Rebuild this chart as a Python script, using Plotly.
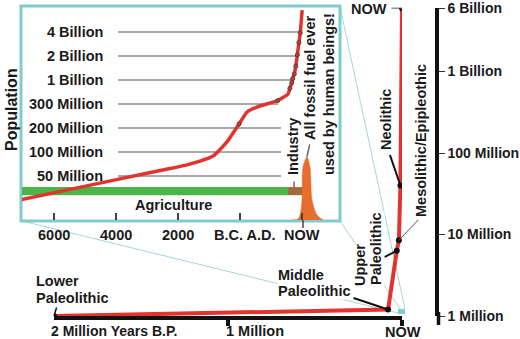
import numpy as np
import plotly.graph_objects as go

W, H = 520, 339

# ---------------- main chart data ----------------
eras = ["Lower Paleolithic", "Middle Paleolithic", "Upper Paleolithic",
        "Mesolithic/Epipleothic", "Neolithic", "NOW"]
years_bp = [2000000, 80000, 30000, 18000, 9000, 0]
population = [1.0e6, 1.2e6, 6.3e6, 8.5e6, 4.0e7, 6.0e9]

main_tick_vals = [1e6, 1e7, 1e8, 1e9, 6e9]
main_tick_text = ["1 Million", "10 Million", "100 Million", "1 Billion", "6 Billion"]

# ---------------- inset data ----------------
inset_years = [-7100, -5480, -3870, -2260, -1710, -870, -420, -30, 230, 550,
               1220, 1550, 1610, 1670, 1700, 1750, 1800, 1850, 1900, 1945, 2005]
inset_pop_m = [25, 34, 46, 62, 69, 89, 134, 214, 262, 285,
               357, 496, 660, 875, 1040, 1190, 1500, 2060, 2940, 3920, 7500]
dot_years = [-30, 1220, 1610, 1670, 1700, 1750, 1800, 1850, 1900, 1945]
dot_pop_m = [214, 357, 660, 875, 1040, 1190, 1500, 2060, 2940, 3920]

inset_levels_m = [50, 100, 200, 300, 1000, 2000, 4000]
inset_level_text = ["50 Million", "100 Million", "200 Million", "300 Million",
                    "1 Billion", "2 Billion", "4 Billion"]

inset_tick_years = [-6000, -4000, -2000, 0, 2000]
inset_tick_text = ["6000", "4000", "2000", "B.C. A.D.", "NOW"]

periods = ["Agriculture", "Industry"]
period_start = [-7100, 1550]
period_end = [1550, 2065]

fuel_years = [1680, 1870, 1935, 2000, 2032, 2161, 2258, 2323, 2484, 2680]
fuel_use = [0, 0.5, 2.3, 9.4, 25, 29.6, 25, 9.4, 2.3, 0]

# ---------------- helpers ----------------
def px(x):
    return x / W


def py(y):
    return 1 - y / H


lv = np.log10(inset_levels_m)


def level_index(p):
    l = np.log10(p)
    if l < lv[0]:
        return (l - lv[0]) / (lv[1] - lv[0])
    if l > lv[-1]:
        return len(lv) - 1 + (l - lv[-1]) / (lv[-1] - lv[-2])
    return float(np.interp(l, lv, np.arange(len(lv))))


RED = "#E2332E"
TEAL = "#80CBCC"
TEAL_L = "#9FD8D9"
GREEN = "#4DB548"
BROWN = "#A2693A"
ORANGE = "#E86C2C"
TXT = "#1a1a1a"
FAM = "Liberation Sans, Arial, sans-serif"
FONT = dict(family=FAM, size=14.5, color=TXT, weight="bold")

fig = go.Figure()

# ---------------- inset traces ----------------
BAR_Y = -0.63
fig.add_trace(go.Bar(
    y=[BAR_Y, BAR_Y], x=[e - s for s, e in zip(period_start, period_end)],
    base=period_start, orientation="h", width=0.34,
    marker=dict(color=[GREEN, BROWN], line=dict(width=0)),
    xaxis="x2", yaxis="y2", showlegend=False, hoverinfo="skip"))

fig.add_trace(go.Scatter(
    x=fuel_years, y=fuel_use, mode="lines", line=dict(color=ORANGE, width=0.5, shape="spline", smoothing=0.8),
    fill="tozeroy", fillcolor=ORANGE, xaxis="x2", yaxis="y3", showlegend=False, hoverinfo="skip"))

fig.add_trace(go.Scatter(
    x=inset_years, y=[level_index(p) for p in inset_pop_m], mode="lines",
    line=dict(color=RED, width=3.5, shape="spline", smoothing=0.5),
    xaxis="x2", yaxis="y2", showlegend=False, hoverinfo="skip"))

fig.add_trace(go.Scatter(
    x=dot_years, y=[level_index(p) for p in dot_pop_m], mode="markers",
    marker=dict(size=4, color=RED, line=dict(width=1, color="#444")),
    xaxis="x2", yaxis="y2", showlegend=False, hoverinfo="skip"))

# ---------------- main traces ----------------
fig.add_trace(go.Scatter(
    x=years_bp, y=population, mode="lines", line=dict(color=RED, width=4),
    xaxis="x", yaxis="y", showlegend=False, hoverinfo="skip"))
fig.add_trace(go.Scatter(
    x=years_bp, y=population, mode="markers", marker=dict(size=6, color="#111"),
    xaxis="x", yaxis="y", showlegend=False, hoverinfo="skip"))

# ---------------- shapes ----------------
shapes = []
# zoom lines (teal), drawn below the inset box
for (x0, y0, x1, y1) in [(340, 7, 405, 309), (340, 221, 401, 310), (22, 221, 398, 313)]:
    shapes.append(dict(type="line", xref="paper", yref="paper", x0=px(x0), y0=py(y0), x1=px(x1), y1=py(y1),
                       line=dict(color=TEAL_L, width=1), layer="below"))
# small teal marker at NOW
shapes.append(dict(type="rect", xref="paper", yref="paper", x0=px(398), y0=py(314), x1=px(405), y1=py(309),
                   fillcolor=TEAL, line=dict(width=0), layer="below"))
# inset box
shapes.append(dict(type="rect", xref="paper", yref="paper", x0=px(21), y0=py(221), x1=px(340), y1=py(6),
                   fillcolor="white", line=dict(color=TEAL, width=3), layer="below"))
# inset gridlines
grid_end = [281, 281, 281, 278, 293, 297, 300]
for i, xe in enumerate(grid_end):
    shapes.append(dict(type="line", xref="paper", yref="y2", x0=px(118), x1=px(xe), y0=i, y1=i,
                       line=dict(color="#8a8a8a", width=1.5), layer="below"))
# NOW tick below inset
shapes.append(dict(type="line", xref="paper", yref="paper", x0=px(303), x1=px(303), y0=py(220), y1=py(228),
                   line=dict(color="#444", width=1.5)))
# extension of right axis line
shapes.append(dict(type="line", xref="paper", yref="paper", x0=px(438.5), x1=px(438.5), y0=py(312), y1=py(325),
                   line=dict(color="#111", width=3.5)))

# ---------------- annotations ----------------
ann = []


def text(t, x, y, xanchor="center", angle=0, bg=None, size=None):
    f = dict(FONT)
    if size:
        f["size"] = size
    d = dict(text=t, x=px(x), y=py(y), xref="paper", yref="paper", showarrow=False,
             xanchor=xanchor, yanchor="middle", textangle=angle, font=f, borderpad=0)
    if bg:
        d["bgcolor"] = bg
    ann.append(d)


def leader(x, y, ax, ay, width=2, color="#111", xref="x", yref="y"):
    ann.append(dict(text="", x=x, y=y, xref=xref, yref=yref, showarrow=True, arrowhead=0,
                    ax=ax, ay=ay, arrowwidth=width, arrowcolor=color, standoff=0, startstandoff=0))


lg = [np.log10(p) for p in population]
# main leaders
leader(years_bp[0], lg[0], 3, -10, 1.5)
leader(years_bp[1], lg[1], -36, -12, 2)
leader(years_bp[2], lg[2], -14, 7, 2)
leader(years_bp[3], lg[3], 21, -22, 1, "#555")
leader(years_bp[4], lg[4], -11, -32, 2)
leader(years_bp[5], lg[5], -12, 0, 1, "#555")

text("Lower", 35, 281, "left")
text("Paleolithic", 35, 297.5, "left")
text("Middle", 277, 274.5, "left", bg="white")
text("Paleolithic", 277, 291, "left", bg="white")
text("Upper", 360, 265, angle=-90, bg="white")
text("Paleolithic", 376, 249, angle=-90, bg="white")
text("Mesolithic/Epipleothic", 421, 141, angle=-90)
text("Neolithic", 386, 120, angle=-90)
text("NOW", 388, 9, "right")

# main x labels
text("2 Million Years B.P.", 50, 331, "left", size=14)
text("1 Million", 225, 331, "left")
text("NOW", 403, 332)

# inset labels
for i, t in enumerate(inset_level_text):
    ann.append(dict(text=t, x=px(105), y=i, xref="paper", yref="y2", showarrow=False,
                    xanchor="right", yanchor="middle", font=FONT))
for yr, t in zip(inset_tick_years, inset_tick_text):
    xx = 240 + (yr / 2000) * 62
    if t.startswith("B.C"):
        xx += 5
    text(t, xx, 235)
text("Agriculture", 173, 205)
text("Industry", 293, 147, angle=-90)
text("All fossil fuel ever", 310, 78, angle=-90)
text("used by human beings!", 329, 94, angle=-90)
text("Population", 11, 110, angle=-90, size=16)
leader(px(294), py(187), 0, -7, 1.5, "#666", "paper", "paper")
leader(2161, 29.6, 3, -14, 1.5, "#666", "x2", "y3")

TICKFONT = dict(FONT)
TICKFONT["size"] = 14

# ---------------- layout ----------------
fig.update_layout(
    width=W, height=H, margin=dict(l=0, r=0, t=0, b=0, autoexpand=False),
    paper_bgcolor="white", plot_bgcolor="rgba(0,0,0,0)",
    showlegend=False, barmode="overlay",
    shapes=shapes, annotations=ann,
    xaxis=dict(domain=[px(54), px(402)], range=[2e6, 0], anchor="y", automargin=False,
               showgrid=False, zeroline=False, showline=True, linecolor="#111", linewidth=4,
               tickvals=[1e6, 0], ticks="outside", ticklen=6, tickwidth=4, tickcolor="#111",
               showticklabels=False),
    yaxis=dict(domain=[py(316), py(8)], type="log", range=[6, np.log10(6e9) + 0.002],
               anchor="free", position=px(437), side="right", automargin=False,
               showgrid=False, zeroline=False, showline=True, linecolor="#111", linewidth=3.5,
               tickvals=main_tick_vals, ticktext=main_tick_text, ticks="outside",
               ticklen=6, tickwidth=1.2, tickcolor="#333", tickfont=TICKFONT),
    xaxis2=dict(domain=[px(22), px(340)], range=[(22 - 240) * 2000 / 62, (340 - 240) * 2000 / 62],
                anchor="y2", showgrid=False, zeroline=False, showline=False, automargin=False,
                tickvals=inset_tick_years, ticks="inside", ticklen=7, tickwidth=1.5, tickcolor="#444",
                showticklabels=False),
    yaxis2=dict(domain=[py(220), py(7)], range=[(176 - 220) / 24, (176 - 7) / 24], anchor="x2",
                automargin=False,
                showgrid=False, zeroline=False, showline=False, showticklabels=False, ticks=""),
    yaxis3=dict(domain=[py(220), py(7)], range=[0, 100], overlaying="y2", anchor="x2",
                visible=False, automargin=False),
)

fig.write_html("out.html")
